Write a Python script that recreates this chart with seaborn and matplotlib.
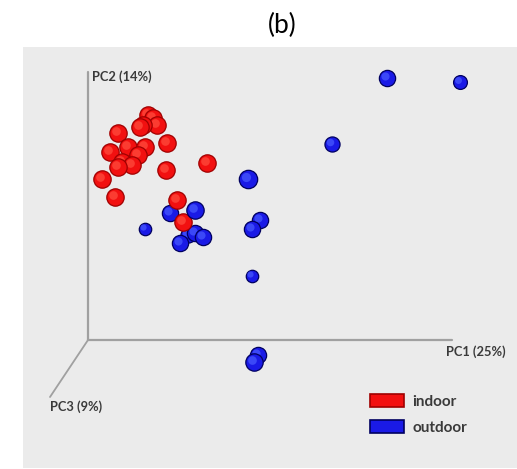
import numpy as np
import pandas as pd
import matplotlib
matplotlib.use("Agg")
import matplotlib.pyplot as plt
import matplotlib.transforms as mtransforms
from matplotlib.patches import Patch
import seaborn as sns

# ---- data (projected PCA scores) ----
red_pc1 = [60, 65, 69, 55, 52, 30, 79, 40, 57, 22, 50, 34, 44, 30, 119, 78, 14, 27, 89, 95]
red_pc2 = [225, 222, 215, 215, 213, 207, 197, 193, 193, 188, 185, 178, 175, 173, 177, 170, 161, 143, 140, 118]
red_pc3 = [6, 6, 6, 6, 6, 6, 6, 6, 6, 6, 6, 6, 6, 6, 6, 6, 6, 6, 6, 6]

blue_pc1 = [57, 82, 107, 100, 92, 107, 115, 160, 172, 164, 164, 170, 166, 299, 372, 244]
blue_pc2 = [111, 127, 130, 105, 97, 107, 103, 161, 120, 111, 64, -15, -22, 262, 258, 196]
blue_pc3 = [2, 5, 6, 4, 5, 5, 5, 7, 5, 5, 2, 5, 6, 5, 3, 4]

groups = ["indoor", "outdoor"]
axis_names = ["PC1 (25%)", "PC2 (14%)", "PC3 (9%)"]
title = "(b)"

df = pd.DataFrame({
    "PC1": red_pc1 + blue_pc1,
    "PC2": red_pc2 + blue_pc2,
    "PC3": red_pc3 + blue_pc3,
    "group": [groups[0]] * len(red_pc1) + [groups[1]] * len(blue_pc1),
}).sort_values("PC3", kind="stable")

palette = {"indoor": "#f21010", "outdoor": "#1a1ae6"}
edge_pal = {"indoor": "#a00000", "outdoor": "#000060"}
light_pal = {"indoor": "#ff5040", "outdoor": "#4a5cff"}

sns.set_theme(style="white")
plt.rcParams["font.family"] = ["Lato", "DejaVu Sans"]

fig = plt.figure(figsize=(5.17, 4.69), dpi=100)
fig.patch.set_facecolor("white")
ax = fig.add_axes([23 / 517, 1 / 469, 494 / 517, 421 / 469])
ax.set_facecolor("#ebebeb")
ax.set_xlim(-65, 429)
ax.set_ylim(-128, 293)
for s in ax.spines.values():
    s.set_visible(False)
ax.set_xticks([])
ax.set_yticks([])

# 3D-like axes
axcol = "#a0a0a0"
ax.plot([0, 364], [0, 0], color=axcol, lw=1.6, zorder=1)
ax.plot([0, 0], [0, 268], color=axcol, lw=1.6, zorder=1)
ax.plot([0, -38], [0, -57], color=axcol, lw=1.3, zorder=1)

lab_kw = dict(fontsize=9.3, fontweight="bold", color="#3a3a3a")
ax.text(358, -12, axis_names[0], ha="left", va="center", **lab_kw)
ax.text(4, 263, axis_names[1], ha="left", va="center", **lab_kw)
ax.text(-38, -67, axis_names[2], ha="left", va="center", **lab_kw)

# spheres: draw point by point in depth order
for _, row in df.iterrows():
    sub = pd.DataFrame([row])
    size = 80 + (row["PC3"] - 2) * 19
    sns.scatterplot(data=sub, x="PC1", y="PC2", s=size, color=palette[row["group"]],
                    edgecolor=edge_pal[row["group"]], linewidth=0.9, ax=ax,
                    legend=False, zorder=3)
    off = mtransforms.offset_copy(ax.transData, fig=fig, x=-1.2, y=1.4, units="points")
    ax.scatter(row["PC1"], row["PC2"], s=size * 0.25, color=light_pal[row["group"]],
               linewidth=0, transform=off, zorder=3, alpha=0.7)

ax.set_xlabel("")
ax.set_ylabel("")

handles = [Patch(facecolor=palette[g], edgecolor=edge_pal[g], linewidth=1.2) for g in groups]
leg = ax.legend(handles, groups, loc="upper left", bbox_to_anchor=(0.703, 0.176),
                frameon=False, handlelength=2.2, handleheight=0.95, handletextpad=0.55,
                labelspacing=0.72, borderpad=0, borderaxespad=0,
                prop={"weight": "bold", "size": 11})
for t in leg.get_texts():
    t.set_color("#3a3a3a")

fig.text(282 / 517, 1 - 25 / 469, title, ha="center", va="center", fontsize=19, color="black")

fig.savefig("out.png", dpi=100, facecolor="white")
